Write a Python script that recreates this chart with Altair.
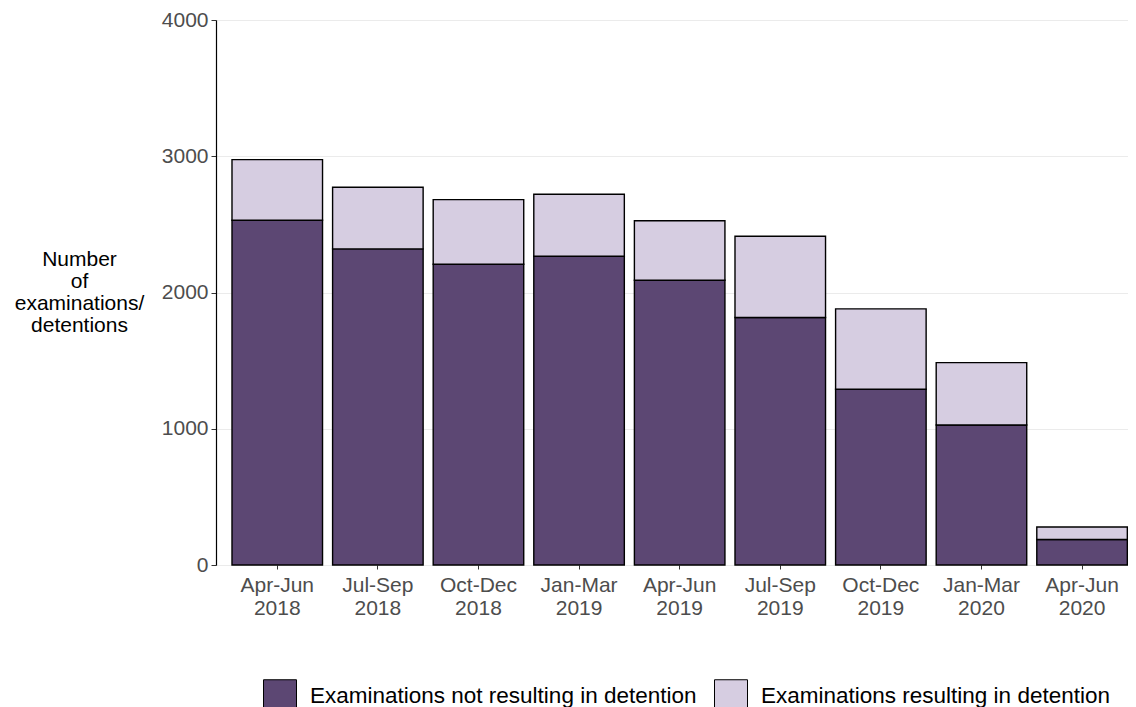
import altair as alt
import pandas as pd

quarters = ["Apr-Jun 2018", "Jul-Sep 2018", "Oct-Dec 2018", "Jan-Mar 2019", "Apr-Jun 2019",
            "Jul-Sep 2019", "Oct-Dec 2019", "Jan-Mar 2020", "Apr-Jun 2020"]
not_detained = [2530, 2320, 2207, 2266, 2090, 1816, 1290, 1028, 187]
detained = [445, 452, 475, 455, 437, 597, 590, 457, 92]
series = ["Examinations not resulting in detention", "Examinations resulting in detention"]
colors = ["#5C4773", "#D6CDE1"]

rows = []
for q, a, b in zip(quarters, not_detained, detained):
    rows.append({"quarter": q, "series": series[0], "value": a, "ord": 0})
    rows.append({"quarter": q, "series": series[1], "value": b, "ord": 1})
df = pd.DataFrame(rows)

FONT = "Liberation Sans"
FS = 21

chart = alt.Chart(df).mark_bar(stroke="black", strokeWidth=1.4).encode(
    x=alt.X("quarter:N", sort=quarters, title=None,
            scale=alt.Scale(paddingInner=0.1, paddingOuter=0.0828, align=0.96),
            axis=alt.Axis(labelAngle=0, labelExpr="split(datum.label, ' ')",
                          labelFont=FONT, labelFontSize=FS, labelColor="#4D4D4D",
                          labelLineHeight=23, labelPadding=5,
                          tickSize=4, tickColor="#333333", domain=False, grid=False)),
    y=alt.Y("value:Q", stack="zero",
            scale=alt.Scale(domain=[0, 4000], nice=False),
            title=["Number", "of", "examinations/", "detentions"],
            axis=alt.Axis(values=[0, 1000, 2000, 3000, 4000], format="d", labelFont=FONT,
                          labelFontSize=FS, labelColor="#4D4D4D", tickSize=5, labelPadding=3,
                          tickColor="#333333", domainColor="black", domainWidth=1.2,
                          gridColor="#EBEBEB", gridWidth=1.2,
                          titleAngle=0, titleFont=FONT, titleFontSize=FS,
                          titleFontWeight="normal", titleColor="black",
                          titleAlign="center", titleBaseline="middle",
                          titleX=-137, titleY=239, titleLineHeight=22)),
    color=alt.Color("series:N", scale=alt.Scale(domain=series, range=colors),
                    legend=alt.Legend(title=None, orient="none", direction="horizontal",
                                      legendX=47, legendY=659,
                                      symbolType="square", symbolSize=1089,
                                      symbolStrokeColor="black", symbolStrokeWidth=1,
                                      symbolOpacity=1, labelLimit=1000,
                                      labelFont=FONT, labelFontSize=22.5, labelColor="black",
                                      labelOffset=13, columnPadding=15)),
    order=alt.Order("ord:Q", sort="ascending"),
).properties(
    width=912, height=545,
    autosize=alt.AutoSizeParams(type="none"),
    padding={"left": 208, "top": 12, "right": 0, "bottom": 142},
).configure_view(stroke=None).configure(background="white")

chart.save("out.html", embed_options={"renderer": "svg", "actions": False})
